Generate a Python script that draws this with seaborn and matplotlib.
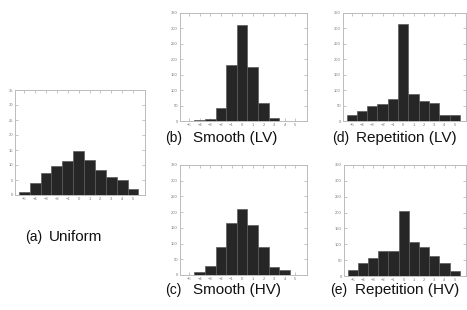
# Histogram panels: uniform / smooth / repetition
import matplotlib
matplotlib.use('Agg')
import matplotlib.pyplot as plt
import seaborn as sns
import numpy as np

# bin centres (shared by all panels)
bins = [-5, -4, -3, -2, -1, 0, 1, 2, 3, 4, 5]

# counts
uniform = [1.0, 3.9, 7.4, 9.7, 11.4, 14.7, 11.8, 8.2, 5.9, 4.9, 2.0]
smooth_lv = [0, 2, 5, 43, 182, 312, 174, 58, 9, 0, 0]
repetition_lv = [19, 32, 48, 56, 72, 313, 87, 65, 57, 20, 19]
smooth_hv = [1, 10, 29, 88, 165, 209, 160, 90, 24, 15, 1]
repetition_hv = [19, 42, 57, 80, 80, 204, 107, 90, 62, 41, 17]

y_ticks_a = [0, 5, 10, 15, 20, 25, 30, 35]
y_ticks = [0, 50, 100, 150, 200, 250, 300, 350]

sns.set_style("white")
plt.rcParams['font.family'] = ['Liberation Sans', 'DejaVu Sans']

W, H = 467, 310
fig = plt.figure(figsize=(W / 100, H / 100), dpi=100)


def px_axes(left, top, right, bottom):
    return fig.add_axes([left / W, 1 - bottom / H, (right - left) / W, (bottom - top) / H])


def draw_hist(ax, values, yticks):
    sns.histplot(x=bins, weights=values, discrete=True, ax=ax,
                 color='#262626', edgecolor='#5a5a5a', linewidth=0.5, alpha=1)
    ax.set_xlim(-5.85, 6.1)
    ax.set_ylim(yticks[0], yticks[-1])
    ax.set_xticks(bins)
    ax.set_yticks(yticks)
    ax.set_xlabel('')
    ax.set_ylabel('')
    ax.tick_params(direction='in', length=2, width=0.4, color='#999999',
                   labelsize=3, labelcolor='#777777', pad=1.5,
                   top=True, right=True, bottom=True, left=True)
    for s in ax.spines.values():
        s.set_color('#bbbbbb')
        s.set_linewidth(0.7)


panels = [
    ((15, 90, 145, 195), uniform, y_ticks_a),
    ((180, 13, 307, 121), smooth_lv, y_ticks),
    ((343, 13, 466, 121), repetition_lv, y_ticks),
    ((180, 165, 307, 275), smooth_hv, y_ticks),
    ((344, 165, 466, 276), repetition_hv, y_ticks),
]
for box, vals, yt in panels:
    draw_hist(px_axes(*box), vals, yt)

# captions
captions = [
    (25, 237, '(a)', 49, 'Uniform'),
    (165, 138, '(b)', 193, 'Smooth (LV)'),
    (332, 138, '(d)', 356, 'Repetition (LV)'),
    (165, 290, '(c)', 193, 'Smooth (HV)'),
    (330, 290, '(e)', 355, 'Repetition (HV)'),
]
for xl, yc, lab, xn, name in captions:
    fig.text(xl / W, 1 - yc / H, lab, fontsize=10, va='center', ha='left', color='#111111')
    fig.text(xn / W, 1 - yc / H, name, fontsize=11, va='center', ha='left', color='#111111')

fig.savefig('out.png', dpi=100)
